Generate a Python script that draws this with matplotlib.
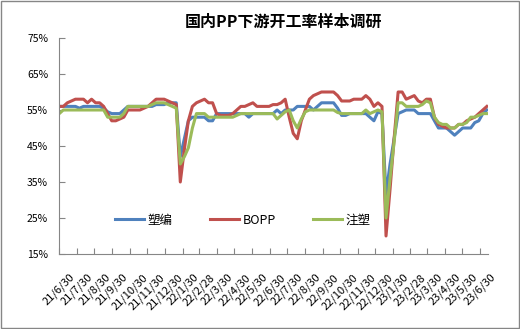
import matplotlib
matplotlib.use("Agg")
import matplotlib.pyplot as plt
from matplotlib.patches import Rectangle
from matplotlib.ticker import FuncFormatter
import pandas as pd

plt.rcParams['font.family'] = ['Noto Sans CJK SC', 'DejaVu Sans']

# weekly survey dates
dates = pd.date_range('2021-06-30', periods=107, freq='7D')

# 塑编
woven = [56, 56, 56, 56, 56, 55.5, 56, 56, 56, 56,
         56, 55.5, 54.5, 54, 54, 54, 55, 56, 56, 56,
         56, 56, 56, 56, 56.5, 56.5, 56.5, 57, 57, 57,
         42, 47, 52, 53, 53, 53, 53, 52, 52, 54,
         54, 54, 54, 54, 54, 54, 54, 53, 54, 54,
         54, 54, 54, 54, 55, 54, 55, 55, 55, 56,
         56, 56, 56, 55, 56, 57, 57, 57, 57, 55.5,
         53.5, 53.5, 54, 54, 54, 54, 54, 53, 52, 54.5,
         54, 31.5, 40, 47, 54, 54.5, 55, 55, 55, 54,
         54, 54, 54, 52, 50, 50, 50, 49, 48, 49,
         50, 50, 50, 51.5, 52, 54, 55]

# BOPP
bopp = [56, 56, 57, 57.5, 58, 58, 58, 57, 58, 57,
        57, 56, 54, 52, 52, 52.5, 53, 55, 55, 55,
        55, 55.5, 56, 57, 58, 58, 58, 57.5, 57, 56.5,
        35, 44, 52, 56, 57, 57.5, 58, 57, 57, 54,
        53.5, 53.5, 53.5, 54, 55, 56, 56, 56.5, 57, 56,
        56, 56, 56, 56.5, 56.5, 57, 58, 53, 48.5, 47,
        52, 55, 58, 59, 59.5, 60, 60, 60, 60, 59,
        57.5, 57.5, 57.5, 58, 58, 58, 59, 58, 56, 57,
        56, 20, 33, 47, 60, 60, 58, 58.5, 59, 57.5,
        57, 58, 58, 53, 51, 50.5, 50, 50, 50, 51,
        51, 52, 52.5, 53, 54, 55, 56]

# 注塑
injection = [54, 55, 55, 55, 55, 55, 55, 55, 55, 55,
             55, 55, 53, 53, 53, 53, 54, 56, 56, 56,
             56, 56, 56, 56.5, 57, 57, 57, 56.5, 56, 55.5,
             40, 42, 44.5, 50, 54, 54, 54, 53, 53, 53,
             53, 53, 53, 53, 53.5, 54, 54, 54, 54, 54,
             54, 54, 54, 54, 52.5, 53.5, 54.5, 55, 52, 50,
             52.5, 54.5, 55, 55, 55, 55, 55, 55, 55, 54.3,
             54, 54, 54, 54, 54, 54, 55, 54, 54.5, 55,
             54.5, 25, 36, 46, 57, 57, 56, 56, 56, 56,
             56.5, 57.5, 57, 53, 51.5, 51, 51, 50, 50, 51,
             51, 51.5, 53, 53, 53.5, 54, 54]

tick_labels = ['21/6/30', '21/7/30', '21/8/30', '21/9/30', '21/10/30', '21/11/30',
               '21/12/30', '22/1/30', '22/2/28', '22/3/30', '22/4/30', '22/5/30',
               '22/6/30', '22/7/30', '22/8/30', '22/9/30', '22/10/30', '22/11/30',
               '22/12/30', '23/1/30', '23/2/28', '23/3/30', '23/4/30', '23/5/30',
               '23/6/30']

fig = plt.figure(figsize=(5.2, 3.29), dpi=100)
ax = fig.add_axes([0.114, 0.228, 0.8245, 0.6565])

ax.plot(dates, woven, color='#4F81BD', lw=2.2, label='塑编')
ax.plot(dates, bopp, color='#C0504D', lw=2.2, label='BOPP')
ax.plot(dates, injection, color='#9BBB59', lw=2.2, label='注塑')

tick_dates = [pd.Timestamp('20' + t) for t in tick_labels]
ax.set_xlim(dates[0], pd.Timestamp('2023-07-14'))
ax.set_xticks(tick_dates)
ax.set_xticklabels(tick_labels, rotation=45, ha='center', fontsize=8)

ax.set_ylim(15, 75)
ax.set_yticks(range(15, 76, 10))
ax.yaxis.set_major_formatter(FuncFormatter(lambda v, p: '%d%%' % v))
ax.tick_params(axis='y', labelsize=7.5, direction='in', length=4, color='#868686', pad=8)
ax.tick_params(axis='x', direction='in', length=4, color='#868686', pad=13)

for s in ['top', 'right']:
    ax.spines[s].set_visible(False)
for s in ['left', 'bottom']:
    ax.spines[s].set_color('#868686')

ax.legend(loc='center', bbox_to_anchor=(0.4285, 0.157), ncol=3, frameon=False,
          fontsize=9, handlelength=2.3, handletextpad=0.3, columnspacing=3.0)

fig.text(0.546, 0.933, '国内PP下游开工率样本调研', ha='center', va='center',
         fontsize=11.5, fontweight='bold')

fig.patches.append(Rectangle((0.001, 0.002), 0.997, 0.995, transform=fig.transFigure,
                             fill=False, edgecolor='#868686', lw=1))

fig.savefig('out.png', dpi=100)
